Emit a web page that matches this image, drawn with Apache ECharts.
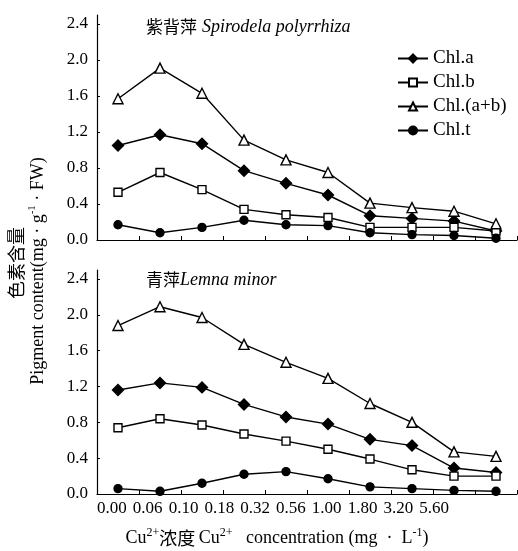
<!DOCTYPE html>
<html>
<head>
<meta charset="utf-8">
<script src="https://cdn.jsdelivr.net/npm/echarts@6/dist/echarts.min.js"></script>
<style>
html, body { margin: 0; padding: 0; background: #fff; }
#main { width: 518px; height: 551px; }
</style>
</head>
<body>
<div id="main"></div>
<script>
// Cu2+ concentration (mg/L)
var concLabels = ['0.00', '0.06', '0.10', '0.18', '0.32', '0.56', '1.00', '1.80', '3.20', '5.60'];
var seriesNames = ['Chl.a', 'Chl.b', 'Chl.(a+b)', 'Chl.t'];
var yTicks = [0, 2.5, 0.4];  // min, max, interval

// 紫背萍 Spirodela polyrrhiza
var spChlA  = [1.05, 1.17, 1.07, 0.77, 0.63, 0.50, 0.27, 0.24, 0.21, 0.10];
var spChlB  = [0.53, 0.75, 0.56, 0.34, 0.28, 0.25, 0.14, 0.14, 0.14, 0.10];
var spChlAB = [1.57, 1.91, 1.63, 1.11, 0.89, 0.75, 0.41, 0.36, 0.32, 0.18];
var spChlT  = [0.17, 0.08, 0.14, 0.22, 0.17, 0.16, 0.08, 0.06, 0.05, 0.02];

// 青萍 Lemna minor
var lmChlA  = [1.16, 1.24, 1.19, 1.00, 0.86, 0.78, 0.61, 0.54, 0.29, 0.24];
var lmChlB  = [0.74, 0.84, 0.77, 0.67, 0.59, 0.50, 0.39, 0.27, 0.20, 0.20];
var lmChlAB = [1.88, 2.09, 1.97, 1.67, 1.47, 1.29, 1.01, 0.80, 0.47, 0.42];
var lmChlT  = [0.06, 0.03, 0.12, 0.22, 0.25, 0.17, 0.08, 0.06, 0.04, 0.03];

var serif = 'Liberation Serif';
var myChart = echarts.init(document.getElementById('main'));

var markers = [
    {symbol: 'diamond', size: 11, fill: '#000'},
    {symbol: 'rect', size: 8, fill: '#fff'},
    {symbol: 'triangle', size: 10, fill: '#fff'},
    {symbol: 'circle', size: 8, fill: '#000'}
];

function makeSeries(idx, data, name, m) {
    return {
        name: name,
        type: 'line',
        xAxisIndex: idx,
        yAxisIndex: idx,
        data: data,
        symbol: m.symbol,
        symbolSize: m.size,
        showAllSymbol: true,
        lineStyle: {color: '#000', width: 1.4},
        itemStyle: {color: m.fill, borderColor: '#000', borderWidth: 1.4},
        animation: false
    };
}

function valueAxis(idx) {
    return {
        type: 'value',
        gridIndex: idx,
        min: yTicks[0],
        max: yTicks[1],
        interval: yTicks[2],
        splitLine: {show: false},
        axisLine: {show: true, lineStyle: {color: '#000', width: 1.2}},
        axisTick: {show: true, inside: true, length: 3, lineStyle: {color: '#000'}},
        axisLabel: {
            showMaxLabel: false,
            margin: 9,
            color: '#000',
            fontFamily: serif,
            fontSize: 17,
            formatter: function (v) { return v.toFixed(1); }
        }
    };
}

function catAxis(idx) {
    return {
        type: 'category',
        gridIndex: idx,
        data: concLabels,
        boundaryGap: true,
        axisLine: {lineStyle: {color: '#000', width: 1.2}},
        axisTick: {show: true, inside: true, length: 4, lineStyle: {color: '#000'}},
        axisLabel: {show: false}
    };
}

var sets = [
    [spChlA, spChlB, spChlAB, spChlT],
    [lmChlA, lmChlB, lmChlAB, lmChlT]
];
var series = [];
for (var g = 0; g < 2; g++) {
    for (var s = 0; s < 4; s++) {
        series.push(makeSeries(g, sets[g][s], seriesNames[s], markers[s]));
    }
}

var titleRich = {
    cn: {fontFamily: 'Noto Sans CJK SC', fontWeight: 'normal', fontSize: 17, color: '#000'},
    it: {fontFamily: serif, fontWeight: 'normal', fontStyle: 'italic', fontSize: 18, color: '#000'}
};
var supRich = {
    n: {fontFamily: serif, fontSize: 18, color: '#000', lineHeight: 22},
    cn: {fontFamily: 'Noto Sans CJK SC', fontSize: 18, color: '#000', lineHeight: 22},
    sup: {fontFamily: serif, fontSize: 12, color: '#000', verticalAlign: 'top', lineHeight: 22, padding: [0, 0, 8, 0]}
};
var yNameRich = {
    n: {fontFamily: serif, fontSize: 18, color: '#000', lineHeight: 22},
    sup: {fontFamily: serif, fontSize: 11, color: '#000', verticalAlign: 'top', lineHeight: 22, padding: [0, 0, 8, 0]}
};

option = {
    backgroundColor: '#fff',
    animation: false,
    title: [
        {text: '{cn|紫背萍} {it|Spirodela polyrrhiza}', left: 141, top: 13, textStyle: {fontWeight: 'normal', rich: titleRich}},
        {text: '{cn|青萍}{it|Lemna minor}', left: 141, top: 266, textStyle: {fontWeight: 'normal', rich: titleRich}}
    ],
    legend: {
        data: seriesNames,
        orient: 'vertical',
        left: 397,
        top: 49,
        padding: 0,
        itemWidth: 30,
        itemHeight: 10,
        itemGap: 5,
        textStyle: {fontFamily: serif, fontSize: 19, color: '#000'},
        inactiveColor: '#000'
    },
    grid: [
        {left: 97, right: 1, top: 15, height: 225},
        {left: 97, right: 1, top: 270, height: 224},
        // label strip for the concentration ticks
        {left: 94, width: 358, top: 470, height: 24}
    ],
    xAxis: [
        catAxis(0),
        catAxis(1),
        {
            type: 'category',
            gridIndex: 2,
            data: concLabels,
            boundaryGap: true,
            axisLine: {show: false},
            axisTick: {show: false},
            axisLabel: {margin: 6, color: '#000', fontFamily: serif, fontSize: 17, interval: 0}
        }
    ],
    yAxis: [
        valueAxis(0),
        valueAxis(1),
        {type: 'value', gridIndex: 2, show: false}
    ],
    graphic: [
        {
            type: 'text', x: 16, y: 263, rotation: Math.PI / 2,
            style: {text: '色素含量', font: '18px "Noto Sans CJK SC"', fill: '#000', align: 'center', verticalAlign: 'middle'}
        },
        {
            type: 'text', x: 38, y: 271, rotation: Math.PI / 2,
            style: {
                text: '{n|Pigment content(mg · g}{sup|-1}{n| · FW)}',
                rich: yNameRich, align: 'center', verticalAlign: 'middle'
            }
        },
        {
            type: 'text', x: 277, y: 538,
            style: {
                text: '{n|Cu}{sup|2+}{cn|浓度} {n|Cu}{sup|2+}{n|   concentration (mg  ·  L}{sup|-1}{n|)}',
                rich: supRich, align: 'center', verticalAlign: 'middle'
            }
        }
    ],
    series: series
};

myChart.setOption(option);
</script>
</body>
</html>
